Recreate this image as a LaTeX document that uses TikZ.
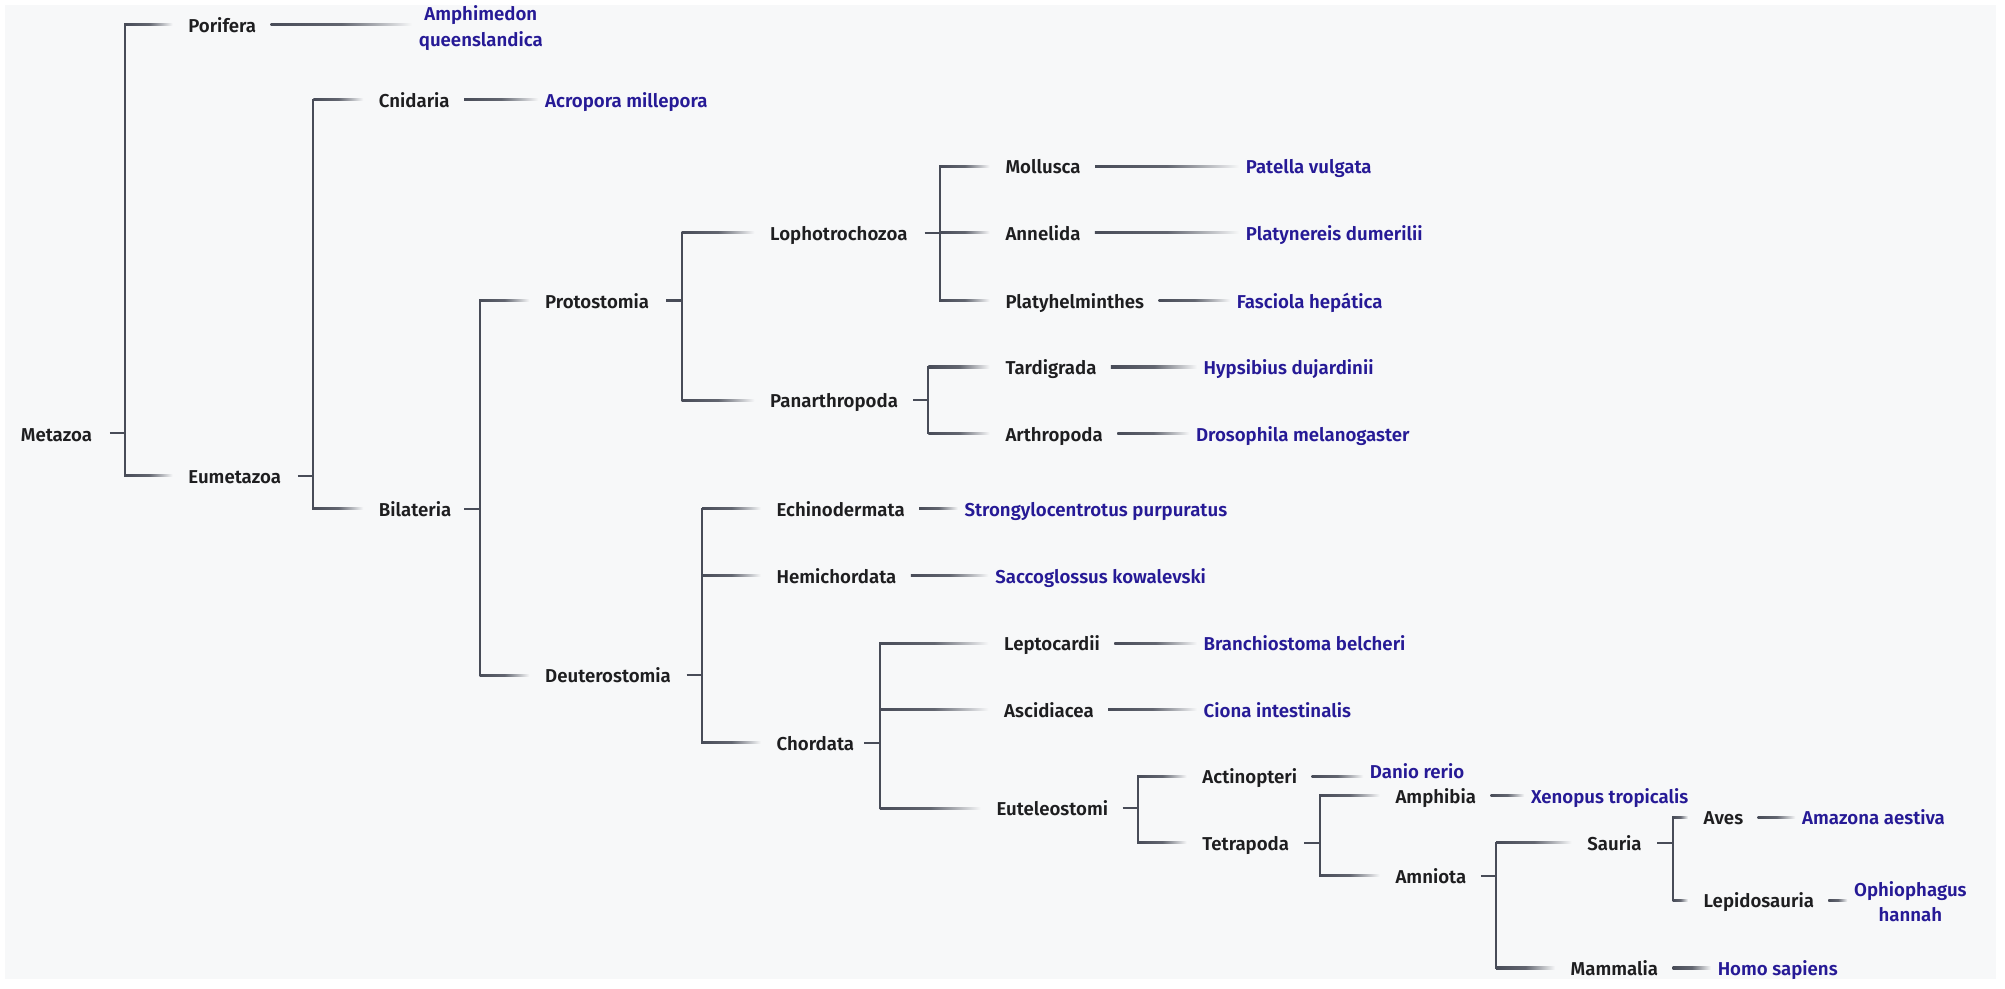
\documentclass[tikz,border=0pt]{standalone}
\usepackage{fontspec}
\setmainfont{Fira Sans}[UprightFont={* SemiBold}]
\usetikzlibrary{calc}
\definecolor{taxblue}{RGB}{38,26,150}
\definecolor{linegray}{RGB}{72,76,88}
\definecolor{bggray}{RGB}{247,248,249}
\definecolor{labelblack}{RGB}{30,30,32}

\begin{document}
\begin{tikzpicture}[x=0.02cm,y=-0.02cm,
	clade/.style={ anchor=west, inner sep=0pt, text=labelblack, font=\fontsize{8.3}{10.3}\selectfont, text height=0.69em, text depth=0pt },
	species/.style={ clade, text=taxblue },
	species2/.style={ inner sep=0pt, text=taxblue, font=\fontsize{8.3}{11.2}\selectfont, align=center },
	branch/.style={ draw=linegray, line width=0.9pt },
	fadebar/.style={ draw=none, left color=linegray, right color=bggray, middle color=linegray!85!bggray }
]

\useasboundingbox (0,0) rectangle (1568,773);
\fill[white] (0,0) rectangle (1568,773);
\fill[bggray] (4,4) rectangle (1561,766);

% clades
\node at (16,339) (metazoa) [clade] {Metazoa};
\node at (147,19) (porifera) [clade] {Porifera};
\node at (147,372) (eumetazoa) [clade] {Eumetazoa};
\node at (296,78) (cnidaria) [clade] {Cnidaria};
\node at (296,398) (bilateria) [clade] {Bilateria};
\node at (426,235) (protostomia) [clade] {Protostomia};
\node at (426,528) (deuterostomia) [clade] {Deuterostomia};
\node at (602,182) (lophotrochozoa) [clade] {Lophotrochozoa};
\node at (602,313) (panarthropoda) [clade] {Panarthropoda};
\node at (786,130) (mollusca) [clade] {Mollusca};
\node at (786,182) (annelida) [clade] {Annelida};
\node at (786,235) (platyhelminthes) [clade] {Platyhelminthes};
\node at (786,287) (tardigrada) [clade] {Tardigrada};
\node at (786,339) (arthropoda) [clade] {Arthropoda};
\node at (607,398) (echinodermata) [clade] {Echinodermata};
\node at (607,450) (hemichordata) [clade] {Hemichordata};
\node at (607,581) (chordata) [clade] {Chordata};
\node at (785,503) (leptocardii) [clade] {Leptocardii};
\node at (785,555) (ascidiacea) [clade] {Ascidiacea};
\node at (779,632) (euteleostomi) [clade] {Euteleostomi};
\node at (940,607) (actinopteri) [clade] {Actinopteri};
\node at (940,659) (tetrapoda) [clade] {Tetrapoda};
\node at (1091,622) (amphibia) [clade] {Amphibia};
\node at (1091,685) (amniota) [clade] {Amniota};
\node at (1241,659) (sauria) [clade] {Sauria};
\node at (1332,639) (aves) [clade] {Aves};
\node at (1332,704) (lepidosauria) [clade] {Lepidosauria};
\node at (1228,757) (mammalia) [clade] {Mammalia};

% species
\node at (376,22) (amphimedon) [species2] {Amphimedon\\queenslandica};
\node at (426,78) (acropora) [species] {Acropora millepora};
\node at (974,130) (patella) [species] {Patella vulgata};
\node at (974,182) (platynereis) [species] {Platynereis dumerilii};
\node at (967,235) (fasciola) [species] {Fasciola hepática};
\node at (941,287) (hypsibius) [species] {Hypsibius dujardinii};
\node at (935,339) (drosophila) [species] {Drosophila melanogaster};
\node at (754,398) (strongylocentrotus) [species] {Strongylocentrotus purpuratus};
\node at (778,450) (saccoglossus) [species] {Saccoglossus kowalevski};
\node at (941,503) (branchiostoma) [species] {Branchiostoma belcheri};
\node at (941,555) (ciona) [species] {Ciona intestinalis};
\node at (1071,603) (danio) [species] {Danio rerio};
\node at (1197,622) (xenopus) [species] {Xenopus tropicalis};
\node at (1409,639) (amazona) [species] {Amazona aestiva};
\node at (1494,705) (ophiophagus) [species2] {Ophiophagus\\hannah};
\node at (1343,757) (homo) [species] {Homo sapiens};

% junctions
\coordinate (jMetazoa) at (98,0 |- metazoa);
\coordinate (jEumetazoa) at (245,0 |- eumetazoa);
\coordinate (jBilateria) at (375,0 |- bilateria);
\coordinate (jProtostomia) at (533,0 |- protostomia);
\coordinate (jLophotrochozoa) at (735,0 |- lophotrochozoa);
\coordinate (jPanarthropoda) at (726,0 |- panarthropoda);
\coordinate (jDeuterostomia) at (549,0 |- deuterostomia);
\coordinate (jChordata) at (688,0 |- chordata);
\coordinate (jEuteleostomi) at (890,0 |- euteleostomi);
\coordinate (jTetrapoda) at (1032,0 |- tetrapoda);
\coordinate (jAmniota) at (1170,0 |- amniota);
\coordinate (jSauria) at (1308,0 |- sauria);

% brackets
\foreach \j/\a/\b/\kids in {
	jMetazoa/porifera/eumetazoa/{porifera,eumetazoa},
	jEumetazoa/cnidaria/bilateria/{cnidaria,bilateria},
	jBilateria/protostomia/deuterostomia/{protostomia,deuterostomia},
	jProtostomia/lophotrochozoa/panarthropoda/{lophotrochozoa,panarthropoda},
	jLophotrochozoa/mollusca/platyhelminthes/{mollusca,annelida,platyhelminthes},
	jPanarthropoda/tardigrada/arthropoda/{tardigrada,arthropoda},
	jDeuterostomia/echinodermata/chordata/{echinodermata,hemichordata,chordata},
	jChordata/leptocardii/euteleostomi/{leptocardii,ascidiacea,euteleostomi},
	jEuteleostomi/actinopteri/tetrapoda/{actinopteri,tetrapoda},
	jTetrapoda/amphibia/amniota/{amphibia,amniota},
	jAmniota/sauria/mammalia/{sauria,mammalia},
	jSauria/aves/lepidosauria/{aves,lepidosauria}} {
	\draw[branch] ([xshift=-0.24cm]\j) -- (\j);
	\draw[branch, line cap=rect] (\j |- \a) -- (\j |- \b);
	\foreach \c in \kids
		\shade[fadebar] ($(\j |- \c)+(0,-0.8)$) rectangle ($(\c.west)+(-12,0.8)$);
}

% leaf lines
\foreach \a/\b in {porifera/amphimedon, cnidaria/acropora, mollusca/patella,
	annelida/platynereis, platyhelminthes/fasciola, tardigrada/hypsibius,
	arthropoda/drosophila, echinodermata/strongylocentrotus, hemichordata/saccoglossus,
	leptocardii/branchiostoma, ascidiacea/ciona, actinopteri/danio, amphibia/xenopus,
	aves/amazona, lepidosauria/ophiophagus, mammalia/homo}
	\shade[fadebar] ($(\a.east)+(11,-0.8)$) rectangle ($(\a.east -| \b.west)+(-5,0.8)$);

\end{tikzpicture}
\end{document}
